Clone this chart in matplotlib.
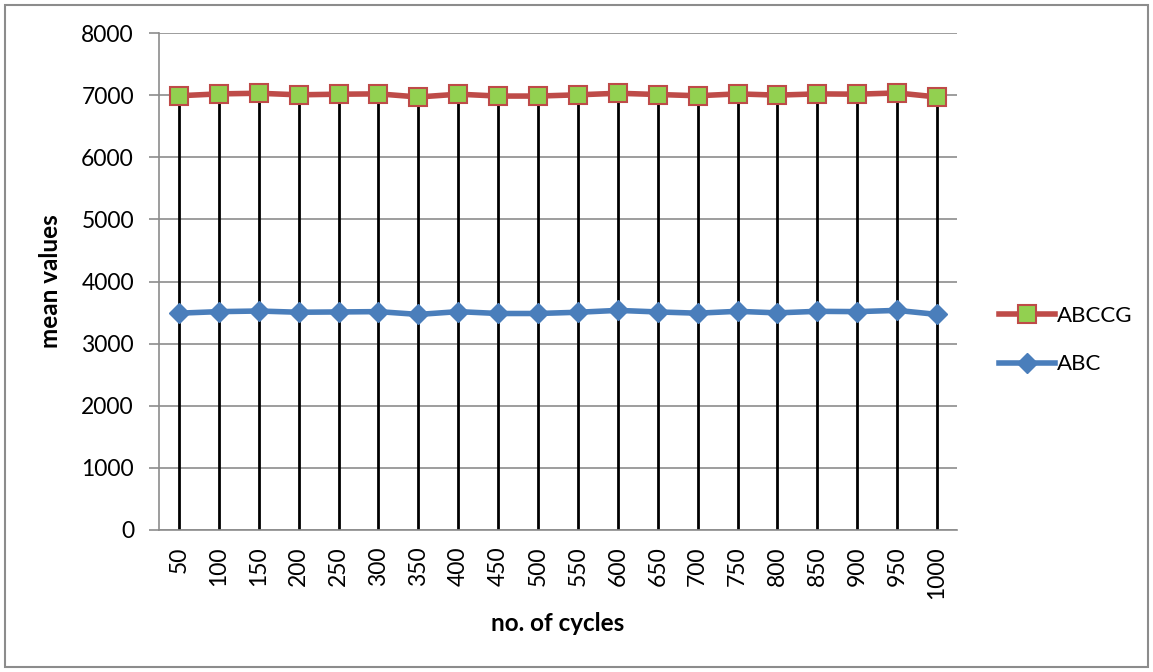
import matplotlib
matplotlib.use("Agg")
import matplotlib.pyplot as plt
from matplotlib.patches import Rectangle
from matplotlib.lines import Line2D

cycles = ["50", "100", "150", "200", "250", "300", "350", "400", "450", "500",
          "550", "600", "650", "700", "750", "800", "850", "900", "950", "1000"]
abccg = [6990, 7020, 7030, 7005, 7015, 7020, 6970, 7015, 6985, 6985,
         7005, 7030, 7010, 6990, 7020, 7000, 7020, 7015, 7035, 6970]
abc = [3490, 3515, 3525, 3505, 3510, 3515, 3470, 3515, 3485, 3485,
       3505, 3535, 3510, 3490, 3520, 3495, 3520, 3515, 3535, 3470]
yticks = [0, 1000, 2000, 3000, 4000, 5000, 6000, 7000, 8000]

plt.rcParams['font.family'] = ['Lato', 'DejaVu Sans']

fig = plt.figure(figsize=(11.53, 6.72), dpi=100)
fig.patches.append(Rectangle((5/1153, 5/672), 1 - 10/1153, 1 - 10/672,
                             transform=fig.transFigure, fill=False,
                             edgecolor='#8c8c8c', linewidth=1.5))
ax = fig.add_axes([159/1153, 1 - 530/672, (957-159)/1153, (530-33)/672])

x = list(range(len(cycles)))
ax.vlines(x, 0, abccg, colors='black', linewidth=2, zorder=2)
ax.plot(x, abc, color='#4a7ebb', linewidth=4, marker='D', markersize=10,
        markerfacecolor='#4a7ebb', markeredgecolor='#4a7ebb', zorder=3, label='ABC')
ax.plot(x, abccg, color='#be4b48', linewidth=4, marker='s', markersize=13,
        markerfacecolor='#92d050', markeredgecolor='#be4b48', markeredgewidth=1.5,
        zorder=4, label='ABCCG')

ax.set_xlim(-0.5, len(cycles) - 0.5)
ax.set_ylim(0, 8000)
ax.set_yticks(yticks)
ax.set_yticklabels([str(v) for v in yticks], fontsize=16.5)
ax.set_xticks(x)
ax.set_xticklabels(cycles, rotation=90, fontsize=16.5)
ax.tick_params(axis='x', length=0, pad=12)
ax.tick_params(axis='y', length=7, color='#8c8c8c', width=1.2, pad=11)
ax.grid(axis='y', color='#8c8c8c', linewidth=1.2)
ax.set_axisbelow(True)
for s in ['top', 'right']:
    ax.spines[s].set_visible(False)
for s in ['left', 'bottom']:
    ax.spines[s].set_color('#8c8c8c')
    ax.spines[s].set_linewidth(1.2)

ax.set_ylabel('mean values', fontsize=17.5, fontweight='bold', labelpad=14)
ax.set_xlabel('no. of cycles', fontsize=17.5, fontweight='bold', labelpad=9)

h_abccg = Line2D([], [], color='#be4b48', linewidth=4, marker='s', markersize=13,
                 markerfacecolor='#92d050', markeredgecolor='#be4b48', markeredgewidth=1.5)
h_abc = Line2D([], [], color='#4a7ebb', linewidth=4, marker='D', markersize=10,
               markerfacecolor='#4a7ebb', markeredgecolor='#4a7ebb')
fig.legend([h_abccg, h_abc], ['ABCCG', 'ABC'], loc='center left',
           bbox_to_anchor=(979/1153, 1 - 340/672), frameon=False, fontsize=16,
           handlelength=2.5, handletextpad=0.1, labelspacing=1.3)

fig.savefig('out.png', dpi=100)
